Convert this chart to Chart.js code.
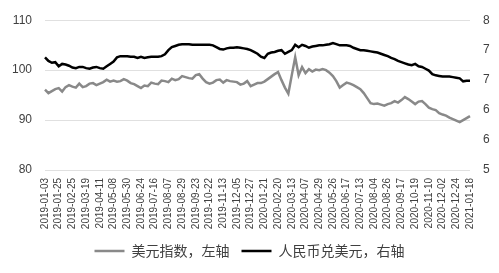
<!DOCTYPE html>
<html>
<head>
<meta charset="utf-8">
<script src="https://cdn.jsdelivr.net/npm/chart.js@4"></script>
<style>
  html, body { margin: 0; padding: 0; background: #fff; }
</style>
</head>
<body>
<canvas id="fxChart" width="499" height="273"></canvas>
<script>
// tick labels on the date axis, one every 4 samples
const tickDates = [
  '2019-01-03', '2019-01-25', '2019-02-25', '2019-03-19', '2019-04-11', '2019-05-08',
  '2019-05-30', '2019-06-24', '2019-07-16', '2019-08-07', '2019-08-29', '2019-09-23',
  '2019-10-22', '2019-11-13', '2019-12-05', '2019-12-27', '2020-01-21', '2020-02-20',
  '2020-03-13', '2020-04-07', '2020-04-29', '2020-05-26', '2020-06-17', '2020-07-13',
  '2020-08-04', '2020-08-26', '2020-09-17', '2020-10-19', '2020-11-10', '2020-12-02',
  '2020-12-24', '2021-01-18'
];
const samplesPerTick = 4;

// US dollar index (left axis)
const usdIndex = [
  96.1, 95.4, 95.8, 96.2,  96.4, 95.7, 96.6, 97.0,  96.7, 96.5, 97.3, 96.6,
  96.8, 97.3, 97.4, 97.0,  97.3, 97.6, 98.1, 97.7,  97.9, 97.7, 97.8, 98.2,
  97.9, 97.4, 97.2, 96.8,  96.4, 96.9, 96.8, 97.5,  97.3, 97.2, 97.9, 97.8,
  97.6, 98.3, 98.0, 98.2,  98.8, 98.6, 98.4, 98.3,  99.0, 99.2, 98.3, 97.6,
  97.3, 97.5, 98.0, 98.1,  97.5, 98.0, 97.8, 97.7,  97.6, 97.1, 97.3, 97.8,
  96.8, 97.1, 97.4, 97.4,  97.7, 98.2, 98.7, 99.2,  99.6, 98.0, 96.5, 95.3,
  99.0, 102.6, 99.0, 100.6,  99.4, 100.2, 99.7, 100.1,  100.0, 100.2, 100.0, 99.5,
  98.8, 97.8, 96.5, 97.0,  97.5, 97.3, 97.0, 96.6,  96.2, 95.4, 94.4, 93.4,
  93.2, 93.3, 93.1, 92.9,  93.2, 93.4, 93.8, 93.5,  94.0, 94.6, 94.2, 93.7,
  93.2, 93.7, 93.8, 93.2,  92.5, 92.2, 92.0, 91.4,  91.1, 90.9, 90.5, 90.2,
  89.9, 89.6, 90.0, 90.4,  90.8
];

// CNY per USD (right axis)
const cnyRate = [
  6.88, 6.82, 6.79, 6.80,  6.73, 6.77, 6.76, 6.74,  6.71, 6.70, 6.72, 6.72,
  6.70, 6.69, 6.71, 6.72,  6.70, 6.69, 6.73, 6.77,  6.81, 6.88, 6.90, 6.90,
  6.90, 6.89, 6.89, 6.87,  6.89, 6.87, 6.88, 6.89,  6.89, 6.89, 6.90, 6.93,
  7.00, 7.05, 7.07, 7.09,  7.10, 7.10, 7.10, 7.09,  7.09, 7.09, 7.09, 7.09,
  7.09, 7.08, 7.05, 7.02,  7.01, 7.03, 7.04, 7.04,  7.05, 7.04, 7.03, 7.02,
  7.00, 6.97, 6.94, 6.89,  6.87, 6.94, 6.96, 6.97,  6.99, 7.00, 6.94, 6.97,
  7.00, 7.09, 7.05, 7.09,  7.07, 7.04, 7.06, 7.07,  7.08, 7.08, 7.09, 7.10,
  7.12, 7.10, 7.08, 7.08,  7.08, 7.07, 7.04, 7.02,  7.00, 7.00, 6.99, 6.98,
  6.97, 6.96, 6.94, 6.92,  6.90, 6.87, 6.85, 6.82,  6.80, 6.78, 6.76, 6.75,
  6.77, 6.73, 6.72, 6.69,  6.66, 6.60, 6.58, 6.57,  6.56, 6.56, 6.56, 6.55,
  6.54, 6.53, 6.48, 6.49,  6.49
];

const seriesNames = ['美元指数，左轴', '人民币兑美元，右轴'];

// one category per sample, date shown only where a tick label sits
const categories = usdIndex.map((v, i) =>
  i % samplesPerTick === 0 ? tickDates[i / samplesPerTick] : '');

const tickFont = { family: "'Liberation Sans', Arial, sans-serif", size: 12 };

const ctx = document.getElementById('fxChart').getContext('2d');
new Chart(ctx, {
  type: 'line',
  data: {
    labels: categories,
    datasets: [
      {
        label: seriesNames[0],
        data: usdIndex,
        yAxisID: 'yLeft',
        borderColor: '#898989',
        backgroundColor: '#898989',
        borderWidth: 2.5,
        pointRadius: 0,
        tension: 0
      },
      {
        label: seriesNames[1],
        data: cnyRate,
        yAxisID: 'yRight',
        borderColor: '#000000',
        backgroundColor: '#000000',
        borderWidth: 2.5,
        pointRadius: 0,
        tension: 0
      }
    ]
  },
  options: {
    responsive: false,
    animation: false,
    layout: {
      padding: { top: 17, left: 0, right: 0, bottom: 5 }
    },
    scales: {
      x: {
        type: 'category',
        offset: false,
        grid: { display: false, drawTicks: false },
        border: { display: false },
        ticks: {
          autoSkip: false,
          minRotation: 90,
          maxRotation: 90,
          padding: 8,
          color: '#404040',
          font: { family: "'Liberation Sans', Arial, sans-serif", size: 10 }
        },
        // tall enough that the rotated dates are not clipped
        afterFit: (scale) => { scale.height = 62; }
      },
      yLeft: {
        type: 'linear',
        position: 'left',
        min: 80,
        max: 110,
        ticks: { stepSize: 10, padding: 13, color: '#404040', font: tickFont },
        grid: { color: '#e0e0e0', drawTicks: false },
        border: { display: false },
        afterFit: (scale) => { scale.width = 45; }
      },
      yRight: {
        type: 'linear',
        position: 'right',
        min: 5,
        max: 7.5,
        ticks: {
          stepSize: 0.5,
          padding: 13,
          color: '#404040',
          font: tickFont,
          // whole-number format, as in the source chart
          callback: (value) => Math.round(value)
        },
        grid: { display: false, drawTicks: false },
        border: { display: false },
        afterFit: (scale) => { scale.width = 29; }
      }
    },
    plugins: {
      legend: {
        position: 'bottom',
        labels: {
          usePointStyle: true,
          pointStyle: 'line',
          pointStyleWidth: 30,
          boxWidth: 30,
          padding: 12,
          color: '#404040',
          font: { family: "'Noto Sans CJK SC', sans-serif", size: 14 }
        }
      },
      tooltip: { enabled: false }
    }
  }
});
</script>
</body>
</html>
